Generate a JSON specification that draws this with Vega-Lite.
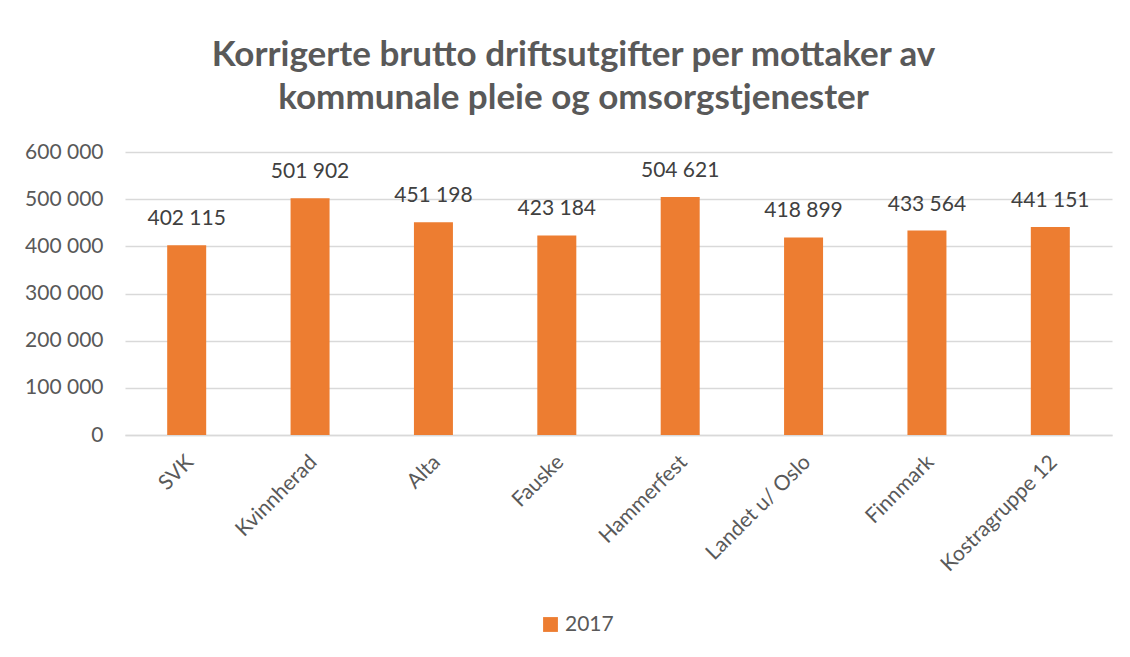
{
  "$schema": "https://vega.github.io/schema/vega-lite/v6.json",
  "autosize": "none",
  "width": 987,
  "height": 283,
  "padding": {"left": 125, "top": 152, "right": 18, "bottom": 222},
  "background": "white",
  "config": {
    "locale": {"number": {"decimal": ",", "thousands": " ", "grouping": [3], "currency": ["", " kr"]}},
    "font": "Lato",
    "view": {"stroke": null}
  },
  "title": {
    "text": ["Korrigerte brutto driftsutgifter per mottaker av", "kommunale pleie og omsorgstjenester"],
    "fontSize": 35,
    "fontWeight": "bold",
    "color": "#595959",
    "font": "Lato",
    "anchor": "middle",
    "lineHeight": 43,
    "dx": -45,
    "offset": 25
  },
  "data": {
    "values": [
      {"kommune": "SVK", "value": 402115, "year": "2017"},
      {"kommune": "Kvinnherad", "value": 501902, "year": "2017"},
      {"kommune": "Alta", "value": 451198, "year": "2017"},
      {"kommune": "Fauske", "value": 423184, "year": "2017"},
      {"kommune": "Hammerfest", "value": 504621, "year": "2017"},
      {"kommune": "Landet u/ Oslo", "value": 418899, "year": "2017"},
      {"kommune": "Finnmark", "value": 433564, "year": "2017"},
      {"kommune": "Kostragruppe 12", "value": 441151, "year": "2017"}
    ]
  },
  "encoding": {
    "x": {
      "field": "kommune", "type": "nominal", "sort": null, "title": null,
      "scale": {"paddingInner": 0, "paddingOuter": 0},
      "axis": {"labelAngle": -45, "labelFontSize": 21, "labelColor": "#595959", "ticks": false, "domainColor": "#d9d9d9", "domainWidth": 1.5, "labelPadding": 16, "labelOffset": -4}
    },
    "y": {
      "field": "value", "type": "quantitative", "title": null,
      "scale": {"domain": [0, 600000]},
      "axis": {"values": [0, 100000, 200000, 300000, 400000, 500000, 600000], "format": ",d", "labelFontSize": 21, "labelColor": "#595959", "ticks": false, "domain": false, "gridColor": "#d9d9d9", "gridWidth": 1.5, "labelPadding": 22}
    }
  },
  "layer": [
    {
      "mark": {"type": "bar", "size": 39},
      "encoding": {
        "color": {
          "field": "year", "type": "nominal", "title": null,
          "scale": {"range": ["#ED7D31"]},
          "legend": {"orient": "none", "legendX": 415, "legendY": 462, "labelFontSize": 21, "labelColor": "#595959", "symbolType": "square", "symbolSize": 220, "symbolStrokeWidth": 0, "symbolOpacity": 1}
        }
      }
    },
    {
      "mark": {"type": "text", "fontSize": 21, "color": "#404040", "baseline": "middle", "dy": -26},
      "encoding": {"text": {"field": "value", "type": "quantitative", "format": ",d"}}
    }
  ]
}
